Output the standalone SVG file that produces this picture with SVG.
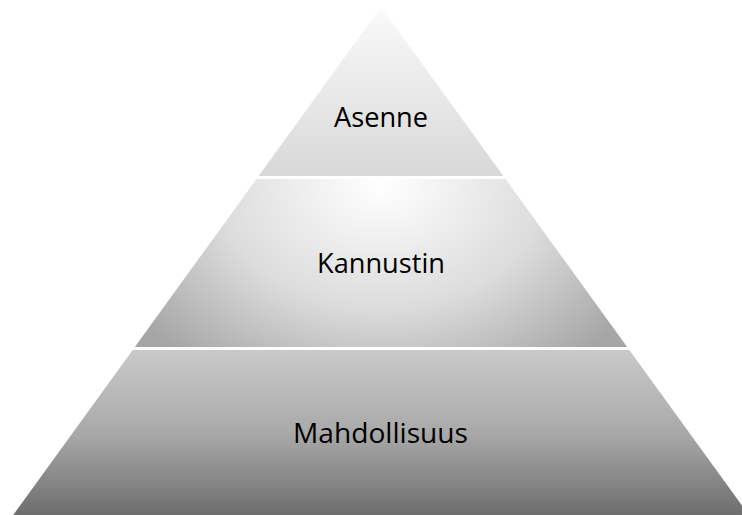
<svg xmlns="http://www.w3.org/2000/svg" width="742" height="515" viewBox="0 0 742 515">
  <style>
    .lbl { font-family: "Open Sans", "Liberation Sans", sans-serif; font-size: 27px; fill: #000; text-anchor: middle; }
  </style>
  <defs>
    <linearGradient id="gTop" x1="0" y1="7" x2="0" y2="176" gradientUnits="userSpaceOnUse">
      <stop offset="0" stop-color="#fafafa"/>
      <stop offset="1" stop-color="#d8d8d8"/>
    </linearGradient>
    <radialGradient id="gMid" cx="381" cy="185" r="300" gradientUnits="userSpaceOnUse" gradientTransform="translate(381 185) scale(1 0.75) translate(-381 -185)">
      <stop offset="0" stop-color="#ffffff"/>
      <stop offset="0.55" stop-color="#dcdcdc"/>
      <stop offset="1" stop-color="#a6a6a6"/>
    </radialGradient>
    <linearGradient id="gBot" x1="0" y1="350" x2="0" y2="515" gradientUnits="userSpaceOnUse">
      <stop offset="0" stop-color="#c9c9c9"/>
      <stop offset="0.5" stop-color="#a9a9a9"/>
      <stop offset="1" stop-color="#6e6e6e"/>
    </linearGradient>
  </defs>
  <rect width="742" height="515" fill="#ffffff"/>
  <g id="layer-asenne">
    <polygon points="381,7 503.4,176 258.6,176" fill="url(#gTop)"/>
    <text class="lbl" x="381" y="127" textLength="94" lengthAdjust="spacingAndGlyphs">Asenne</text>
  </g>
  <g id="layer-kannustin">
    <polygon points="256.5,179 505.5,179 627.2,347 134.8,347" fill="url(#gMid)"/>
    <text class="lbl" x="381" y="273" textLength="128" lengthAdjust="spacingAndGlyphs">Kannustin</text>
  </g>
  <g id="layer-mahdollisuus">
    <polygon points="132.7,350 629.3,350 748.8,515 13.2,515" fill="url(#gBot)"/>
    <text class="lbl" x="380.5" y="443" textLength="175" lengthAdjust="spacingAndGlyphs">Mahdollisuus</text>
  </g>
  <g id="connectors"/>
</svg>
